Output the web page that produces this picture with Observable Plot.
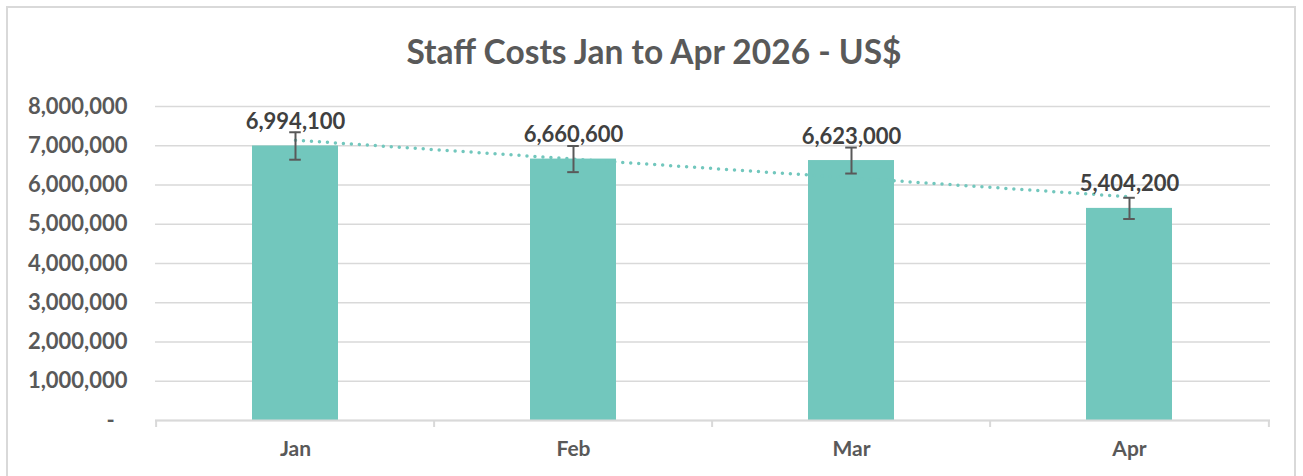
<!DOCTYPE html>
<html>
<head>
<meta charset="utf-8">
<script src="https://cdn.jsdelivr.net/npm/d3@7"></script>
<script src="https://cdn.jsdelivr.net/npm/@observablehq/plot@0.6"></script>
<style>
  html, body { margin: 0; padding: 0; background: #fff; }
  #wrap { position: relative; width: 1303px; height: 476px; overflow: hidden; font-family: Lato, "Open Sans", sans-serif; }
  #border { position: absolute; left: 6px; top: 6px; width: 1290px; height: 490px; border: 2px solid #d9d9d9; box-sizing: border-box; }
  #title { position: absolute; left: 0; width: 1308px; top: 31px; text-align: center; font-size: 33.5px; font-weight: 700; color: #595959; line-height: 40px; }
  #chart { position: absolute; left: 0; top: 0; }
</style>
</head>
<body>
<div id="wrap">
  <div id="border"></div>
  <div id="title">Staff Costs Jan to Apr 2026 - US$</div>
  <div id="chart"></div>
</div>
<script>
const months = ["Jan", "Feb", "Mar", "Apr"];
const costs = [6994100, 6660600, 6623000, 5404200];
const errorPct = 0.05;
const yTicks = [0, 1000000, 2000000, 3000000, 4000000, 5000000, 6000000, 7000000, 8000000];

const data = months.map((m, i) => ({month: m, value: costs[i], lo: costs[i] * (1 - errorPct), hi: costs[i] * (1 + errorPct)}));

// linear trendline (least squares)
const xs = costs.map((_, i) => i + 1);
const mx = d3.mean(xs), my = d3.mean(costs);
const slope = d3.sum(xs.map((x, i) => (x - mx) * (costs[i] - my))) / d3.sum(xs.map(x => (x - mx) ** 2));
const trend = months.map((m, i) => ({month: m, value: my + slope * (xs[i] - mx)}));

const W = 1303, H = 476;
const mL = 155, mR = 33, mT = 106, mB = 56;
const step = (W - mL - mR) / months.length;
const pad = 0.69;
const bandW = step * (1 - pad);
const capW = 12;

const fmtY = d => d === 0 ? "-\u2007" : d3.format(",")(d);
const barColor = "#72c7bd";

const chart = Plot.plot({
  width: W,
  height: H,
  marginLeft: mL,
  marginRight: mR,
  marginTop: mT,
  marginBottom: mB,
  style: {fontFamily: "Lato, 'Open Sans', sans-serif", background: "transparent", overflow: "visible"},
  x: {domain: months, paddingInner: pad, paddingOuter: pad / 2, label: null},
  y: {domain: [0, 8000000], label: null},
  marks: [
    Plot.gridY(yTicks, {stroke: "#d9d9d9", strokeOpacity: 1, strokeWidth: 1.5}),
    Plot.axisY({ticks: yTicks, tickFormat: fmtY, tickSize: 0, tickPadding: 28, fontSize: 22, fontWeight: 700, fill: "#595959", label: null}),
    Plot.axisX({tickSize: 0, tickPadding: 21, fontSize: 21, fontWeight: 700, fill: "#595959", label: null}),
    Plot.barY(data, {x: "month", y: "value", fill: barColor}),
    Plot.ruleY([0], {stroke: "#d9d9d9", strokeWidth: 2}),
    Plot.ruleX(months, {x: d => d, y1: 0, y2: 0, insetBottom: -7, dx: -step / 2, stroke: "#d9d9d9", strokeWidth: 2}),
    Plot.ruleX([months[months.length - 1]], {x: d => d, y1: 0, y2: 0, insetBottom: -7, dx: step / 2, stroke: "#d9d9d9", strokeWidth: 2}),
    Plot.line(trend, {x: "month", y: "value", stroke: barColor, strokeWidth: 3.5, strokeDasharray: "0,8", strokeLinecap: "round"}),
    Plot.ruleX(data, {x: "month", y1: "lo", y2: "hi", stroke: "#595959", strokeWidth: 2}),
    Plot.tickY(data, {x: "month", y: "lo", stroke: "#595959", strokeWidth: 2, insetLeft: (bandW - capW) / 2, insetRight: (bandW - capW) / 2}),
    Plot.tickY(data, {x: "month", y: "hi", stroke: "#595959", strokeWidth: 2, insetLeft: (bandW - capW) / 2, insetRight: (bandW - capW) / 2}),
    Plot.text(data, {x: "month", y: "value", text: d => d3.format(",")(d.value), dy: -24, fontSize: 22, fontWeight: 700, fill: "#404040", lineAnchor: "middle"})
  ]
});
document.getElementById("chart").appendChild(chart);
</script>
</body>
</html>
